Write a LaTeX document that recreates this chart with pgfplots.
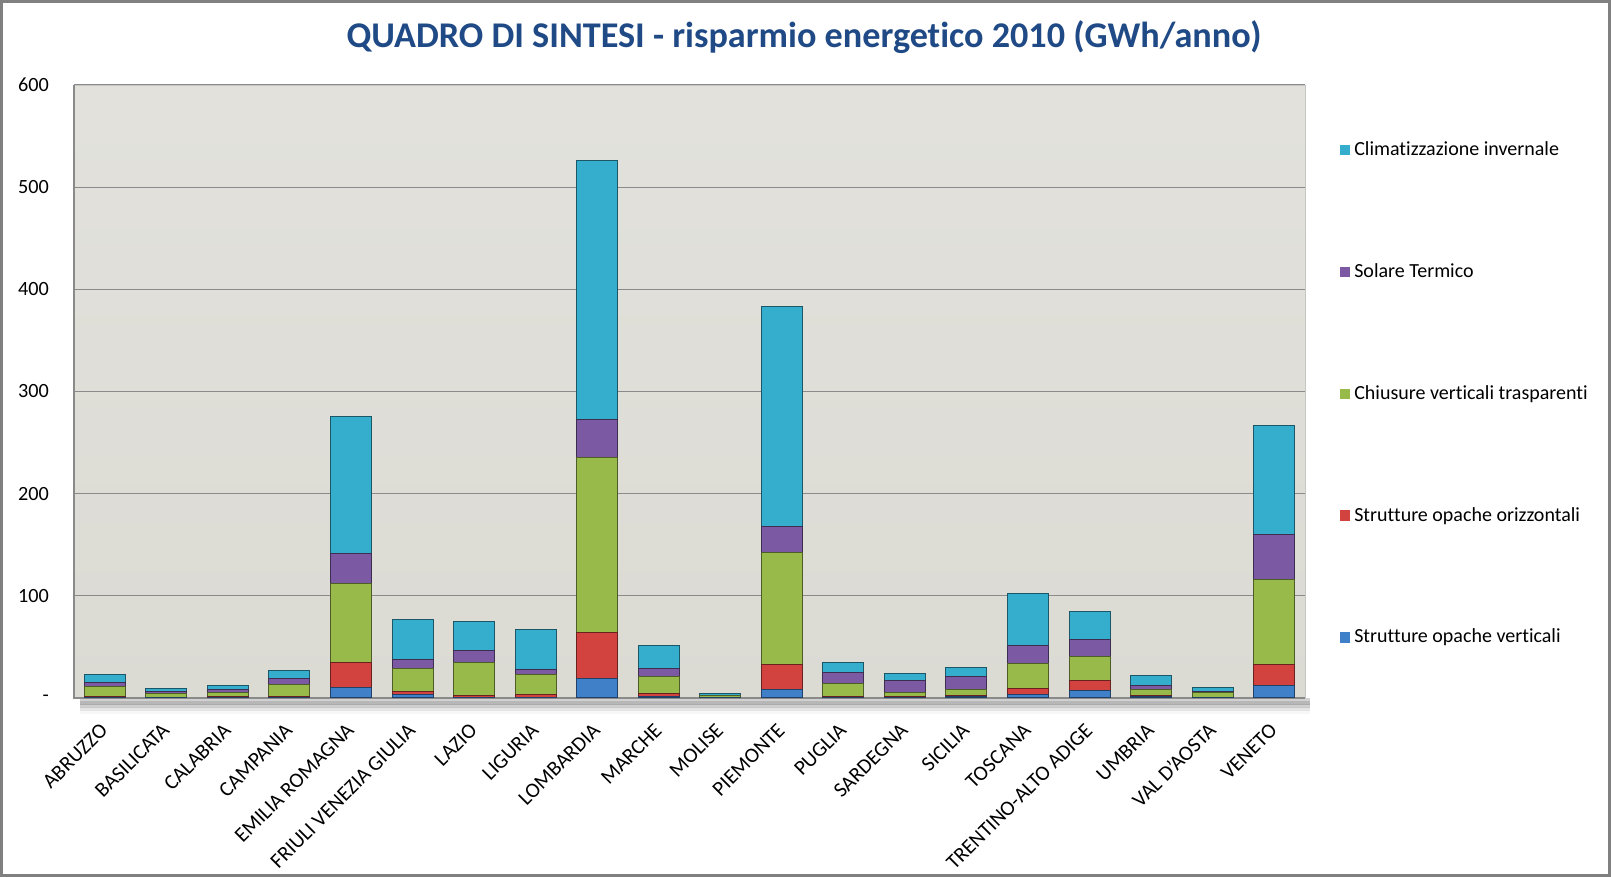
\documentclass[border=0pt]{standalone}
\usepackage{pgfplots}
\usepackage{pgfplotstable}
\pgfplotsset{compat=1.18}
\usepackage{fontspec}
\setmainfont{Carlito}[Ligatures={NoCommon}]
\definecolor{cCyan}{HTML}{35ADCC}
\definecolor{cPurple}{HTML}{7B5AA3}
\definecolor{cGreen}{HTML}{98BA4A}
\definecolor{cRed}{HTML}{D2433F}
\definecolor{cBlue}{HTML}{3F80C9}
\definecolor{titleblue}{HTML}{1F4A86}
\definecolor{plotbg}{HTML}{DBDAD3}
\definecolor{gridgray}{HTML}{8A8A8A}

\pgfplotstableread{
idx sov soo cvt st ci
0 0.3 0.7 10 4 8
1 0.3 0.5 4 1.2 3.5
2 0.5 0.5 4 3.5 4
3 0.5 1 12 5.5 7.5
4 10 25 77 29 135
5 3 3.5 22 9.5 39
6 0.3 2.5 32 12 28
7 0.5 3 19.5 5 39
8 19 45 171 38 253
9 1 3 17 8 22
10 0.2 0.3 1.5 0.5 1.5
11 8 25 109 26 215
12 0.5 1 13 10 10
13 0.5 0.5 4 12.5 6
14 1 1 6.5 13 8
15 3 6 25 17 51
16 7 10 24 16 28
17 1 1.5 5.5 4.5 10
18 0.3 0.5 4.5 1 3.5
19 12 21 83 44 107
}\datatable

\begin{document}
\begin{tikzpicture}[x=1pt,y=1pt]
\fill[white] (0,0) rectangle (805.5,438.5);
% soft shadow below plot area
\foreach \i/\op in {0/0.18,1.5/0.12,3/0.07,4.5/0.03}{
  \fill[black,opacity=\op] (40,89.5-\i) rectangle (655,86-\i);
}
\begin{axis}[
  at={(37pt,89.5pt)}, anchor=south west,
  scale only axis, width=615.5pt, height=306.5pt,
  ybar stacked, bar width=20.5pt,
  xmin=-0.5, xmax=19.5, ymin=0, ymax=600,
  xtick=data,
  xticklabels={ABRUZZO,BASILICATA,CALABRIA,CAMPANIA,EMILIA ROMAGNA,FRIULI VENEZIA GIULIA,LAZIO,LIGURIA,LOMBARDIA,MARCHE,MOLISE,PIEMONTE,PUGLIA,SARDEGNA,SICILIA,TOSCANA,TRENTINO-ALTO ADIGE,UMBRIA,{VAL D'AOSTA},VENETO},
  ytick={0,100,200,300,400,500,600},
  yticklabels={-,100,200,300,400,500,600},
  /pgf/number format/assume math mode=true,
  tick style={draw=none},
  ymajorgrids, major grid style={gridgray, line width=0.6pt},
  axis background/.style={top color=plotbg!80!white, bottom color=plotbg},
  axis line style={draw=none},
  axis x line*=bottom, axis y line*=left,
  ticklabel style={font=\fontsize{10.1}{12}\selectfont, text=black},
  yticklabel style={xshift=-9pt},
  xticklabel style={rotate=45, anchor=east, yshift=-10pt, xshift=-7pt, font=\fontsize{10.5}{12}\selectfont},
  legend style={at={(1.028,0.915)}, anchor=north west, draw=none, fill=none,
    font=\fontsize{10}{12}\selectfont, row sep=48.5pt, inner sep=0pt},
  legend cell align=left,
  reverse legend,
  legend image code/.code={\fill[#1,draw=none] (0pt,-2.6pt) rectangle (5.2pt,2.6pt);},
  every axis plot/.append style={draw=black!55, line width=0.5pt},
  clip=false,
]
\addplot+[fill=cBlue, draw=cBlue!50!black] table[x=idx,y=sov]{\datatable};
\addlegendentry{Strutture opache verticali}
\addplot+[fill=cRed, draw=cRed!50!black] table[x=idx,y=soo]{\datatable};
\addlegendentry{Strutture opache orizzontali}
\addplot+[fill=cGreen, draw=cGreen!50!black] table[x=idx,y=cvt]{\datatable};
\addlegendentry{Chiusure verticali trasparenti}
\addplot+[fill=cPurple, draw=cPurple!50!black] table[x=idx,y=st]{\datatable};
\addlegendentry{Solare Termico}
\addplot+[fill=cCyan, draw=cCyan!50!black] table[x=idx,y=ci]{\datatable};
\addlegendentry{Climatizzazione invernale}
\draw[gridgray, line width=0.9pt] (rel axis cs:0,1) -- (rel axis cs:0,0) -- (rel axis cs:1,0);
\draw[gridgray!50, line width=0.5pt] (rel axis cs:0,1) -- (rel axis cs:1,1) -- (rel axis cs:1,0);
\end{axis}
\node[font=\fontsize{18.1}{22}\selectfont\bfseries, text=titleblue] at (402,420) {QUADRO DI SINTESI - risparmio energetico 2010 (GWh/anno)};
\draw[gray, line width=1.4pt] (0.7,0.7) rectangle (804.8,437.8);
\pgfresetboundingbox
\useasboundingbox (0,0) rectangle (805.5,438.5);
\end{tikzpicture}
\end{document}
